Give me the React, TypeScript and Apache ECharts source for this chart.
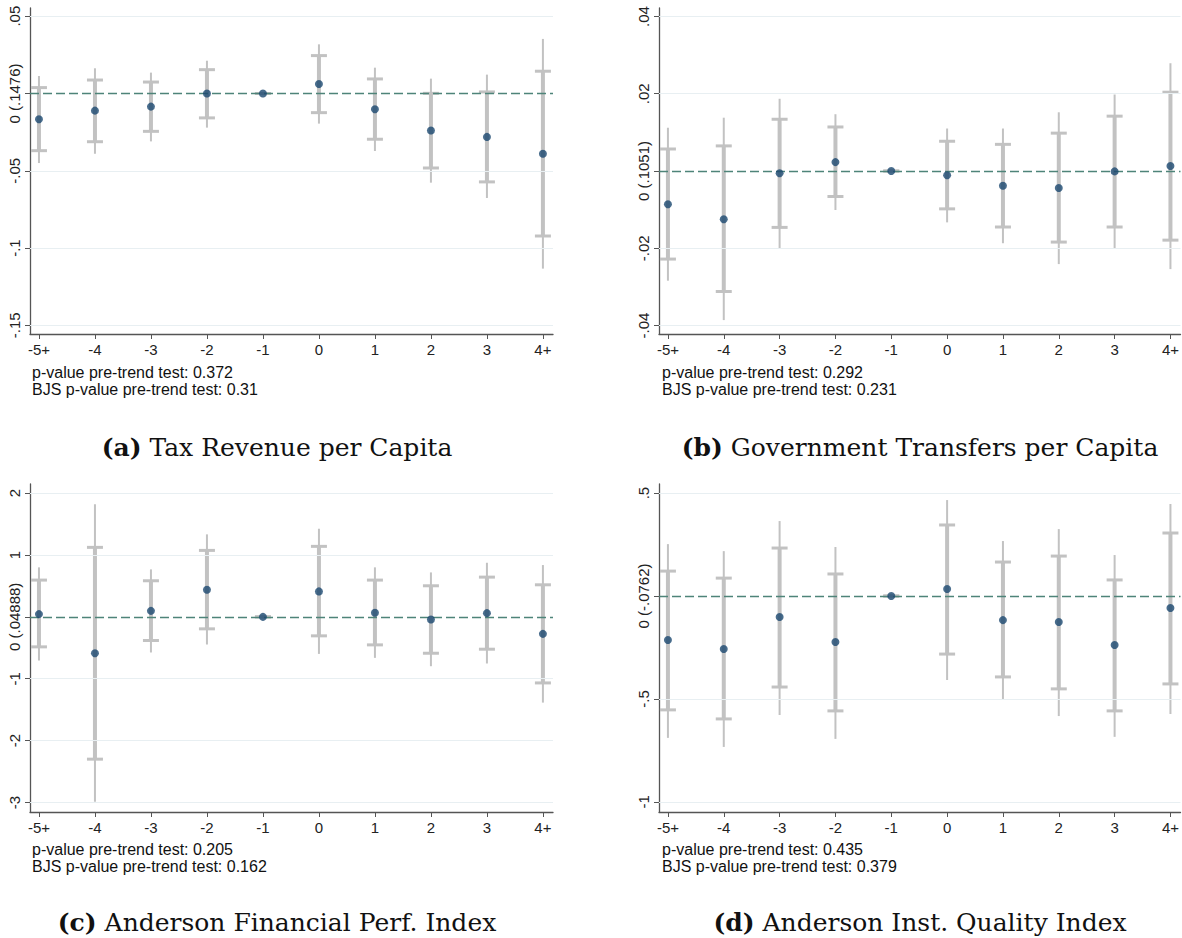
import React, { useEffect, useRef } from "react";
import * as echarts from "echarts";

// event-time categories
const eventTimes = [-5, -4, -3, -2, -1, 0, 1, 2, 3, 4];
const eventLabels = ["-5+", "-4", "-3", "-2", "-1", "0", "1", "2", "3", "4+"];

// (a) Tax Revenue per Capita
const aPoint = [-0.0167, -0.0111, -0.0085, 0.0, 0, 0.0061, -0.0102, -0.024, -0.0281, -0.039];
const aLo95 = [-0.037, -0.0312, -0.0245, -0.0158, 0, -0.0124, -0.0296, -0.0482, -0.0572, -0.0922];
const aHi95 = [0.0038, 0.0087, 0.0074, 0.0154, 0, 0.0245, 0.0094, 0.0001, 0.001, 0.0144];
const aLoU = [-0.045, -0.039, -0.031, -0.0221, 0, -0.0195, -0.0372, -0.0577, -0.0676, -0.1133];
const aHiU = [0.0113, 0.0163, 0.0135, 0.0212, 0, 0.0318, 0.0167, 0.0096, 0.0122, 0.0353];
const aTicks = [0.05, 0, -0.05, -0.1, -0.15];
const aTickLabels = [".05", "0 (.1476)", "-.05", "-.1", "-.15"];

// (b) Government Transfers per Capita
const bPoint = [-0.0086, -0.0125, -0.0006, 0.0023, 0, -0.0011, -0.0038, -0.0044, -0.0001, 0.0013];
const bLo95 = [-0.0228, -0.0312, -0.0146, -0.0066, 0, -0.0098, -0.0145, -0.0184, -0.0145, -0.0179];
const bHi95 = [0.0057, 0.0065, 0.0134, 0.0114, 0, 0.0077, 0.0069, 0.0098, 0.0142, 0.0204];
const bLoU = [-0.0284, -0.0386, -0.02, -0.0101, 0, -0.0133, -0.0187, -0.0241, -0.0201, -0.0254];
const bHiU = [0.0112, 0.0138, 0.0187, 0.0147, 0, 0.011, 0.011, 0.0152, 0.0198, 0.0279];
const bTicks = [0.04, 0.02, 0, -0.02, -0.04];
const bTickLabels = [".04", ".02", "0 (.1051)", "-.02", "-.04"];

// (c) Anderson Financial Perf. Index
const cPoint = [0.044, -0.588, 0.097, 0.437, 0, 0.411, 0.065, -0.043, 0.06, -0.275];
const cLo95 = [-0.485, -2.3, -0.382, -0.194, 0, -0.307, -0.453, -0.588, -0.523, -1.068];
const cHi95 = [0.594, 1.123, 0.583, 1.074, 0, 1.139, 0.594, 0.502, 0.642, 0.518];
const cLoU = [-0.706, -2.99, -0.576, -0.447, 0, -0.599, -0.663, -0.798, -0.754, -1.386];
const cHiU = [0.8, 1.819, 0.767, 1.333, 0, 1.424, 0.8, 0.718, 0.874, 0.837];
const cTicks = [2, 1, 0, -1, -2, -3];
const cTickLabels = ["2", "1", "0 (.04888)", "-1", "-2", "-3"];

// (d) Anderson Inst. Quality Index
const dPoint = [-0.214, -0.257, -0.102, -0.223, 0, 0.034, -0.117, -0.126, -0.238, -0.058];
const dLo95 = [-0.553, -0.597, -0.442, -0.558, 0, -0.282, -0.393, -0.451, -0.558, -0.427];
const dHi95 = [0.121, 0.087, 0.233, 0.107, 0, 0.345, 0.165, 0.194, 0.078, 0.306];
const dLoU = [-0.689, -0.733, -0.578, -0.694, 0, -0.408, -0.5, -0.583, -0.684, -0.573];
const dHiU = [0.252, 0.218, 0.364, 0.238, 0, 0.466, 0.267, 0.325, 0.199, 0.447];
const dTicks = [0.5, 0, -0.5, -1];
const dTickLabels = [".5", "0 (-.0762)", "-.5", "-1"];

const pretrendP = ["0.372", "0.292", "0.205", "0.435"];
const bjsP = ["0.31", "0.231", "0.162", "0.379"];
const captionTags = ["(a)", "(b)", "(c)", "(d)"];
const captionTitles = [
  "Tax Revenue per Capita",
  "Government Transfers per Capita",
  "Anderson Financial Perf. Index",
  "Anderson Inst. Quality Index",
];

const GREY = "#c2c2c2";
const NAVY = "#1a476f";
const REF = "#4e8479";
const GRIDC = "#e8eff2";
const SANS = "Liberation Sans";
const SERIF = "DejaVu Serif";

export default function App() {
  const ref = useRef<HTMLDivElement>(null);

  useEffect(() => {
    if (!ref.current) return;
    const chart = echarts.init(ref.current, null, { renderer: "svg" });

    const panels = [
      { point: aPoint, lo: aLo95, hi: aHi95, loU: aLoU, hiU: aHiU, ticks: aTicks, labels: aTickLabels, min: -0.1556, max: 0.0553, left: 30, top: 8, height: 326 },
      { point: bPoint, lo: bLo95, hi: bHi95, loU: bLoU, hiU: bHiU, ticks: bTicks, labels: bTickLabels, min: -0.0422, max: 0.0422, left: 659, top: 8, height: 326 },
      { point: cPoint, lo: cLo95, hi: cHi95, loU: cLoU, hiU: cHiU, ticks: cTicks, labels: cTickLabels, min: -3.154, max: 2.147, left: 30, top: 484, height: 328 },
      { point: dPoint, lo: dLo95, hi: dHi95, loU: dLoU, hiU: dHiU, ticks: dTicks, labels: dTickLabels, min: -1.049, max: 0.544, left: 659, top: 484, height: 328 },
    ];

    const makeRender = (lineW: number, caps: boolean) => (params: any, api: any) => {
      const x = api.value(0);
      const p1 = api.coord([x, api.value(1)]);
      const p2 = api.coord([x, api.value(2)]);
      const children: any[] = [
        { type: "line", shape: { x1: p1[0], y1: p1[1], x2: p2[0], y2: p2[1] }, style: { stroke: GREY, lineWidth: lineW } },
      ];
      if (caps) {
        const cw = 8;
        children.push({ type: "line", shape: { x1: p1[0] - cw, y1: p1[1], x2: p1[0] + cw, y2: p1[1] }, style: { stroke: GREY, lineWidth: 3 } });
        children.push({ type: "line", shape: { x1: p2[0] - cw, y1: p2[1], x2: p2[0] + cw, y2: p2[1] }, style: { stroke: GREY, lineWidth: 3 } });
      }
      return { type: "group", children };
    };

    const grids: any[] = [];
    const xAxes: any[] = [];
    const yAxes: any[] = [];
    const series: any[] = [];
    const graphics: any[] = [];

    panels.forEach((p, i) => {
      grids.push({ left: p.left, top: p.top, width: 523, height: p.height });
      xAxes.push({
        type: "value",
        gridIndex: i,
        min: -5.16,
        max: 4.18,
        axisLine: { show: true, onZero: false, lineStyle: { color: "#555", width: 1.3 } },
        axisTick: { show: true, length: 5, customValues: eventTimes, lineStyle: { color: "#555", width: 1 } },
        axisLabel: {
          customValues: eventTimes,
          formatter: (v: number) => eventLabels[eventTimes.indexOf(Math.round(v))] ?? "",
          fontFamily: SANS,
          fontSize: 15,
          color: "#222",
          margin: 8,
        },
        splitLine: { show: false },
      });
      yAxes.push({
        type: "value",
        gridIndex: i,
        min: p.min,
        max: p.max,
        axisLine: { show: true, onZero: false, lineStyle: { color: "#555", width: 1.3 } },
        axisTick: { show: true, length: 5, customValues: p.ticks, lineStyle: { color: "#555", width: 1 } },
        axisLabel: {
          customValues: p.ticks,
          rotate: 90,
          formatter: (v: number) => {
            const k = p.ticks.findIndex((t) => Math.abs(t - v) < 1e-9);
            return k >= 0 ? p.labels[k] : "";
          },
          fontFamily: SANS,
          fontSize: 15,
          color: "#222",
          margin: 8,
        },
        splitLine: { show: false },
      });

      const ptData = eventTimes.map((t, k) => [t, p.point[k]]);
      // gridlines
      series.push({
        type: "line",
        xAxisIndex: i,
        yAxisIndex: i,
        data: ptData,
        showSymbol: false,
        lineStyle: { opacity: 0 },
        silent: true,
        z: 1,
        markLine: {
          silent: true,
          symbol: "none",
          label: { show: false },
          lineStyle: { color: GRIDC, width: 1, type: "solid" },
          data: p.ticks.filter((t) => t !== 0).map((t) => ({ yAxis: t })),
        },
      });
      series.push({
        type: "custom",
        xAxisIndex: i,
        yAxisIndex: i,
        renderItem: makeRender(2, false),
        encode: { x: 0, y: [1, 2] },
        data: eventTimes.map((t, k) => [t, p.loU[k], p.hiU[k]]),
        z: 2,
      });
      series.push({
        type: "custom",
        xAxisIndex: i,
        yAxisIndex: i,
        renderItem: makeRender(4, true),
        encode: { x: 0, y: [1, 2] },
        data: eventTimes.map((t, k) => [t, p.lo[k], p.hi[k]]),
        z: 3,
      });
      // reference dashed line at zero
      series.push({
        type: "line",
        xAxisIndex: i,
        yAxisIndex: i,
        data: ptData,
        showSymbol: false,
        lineStyle: { opacity: 0 },
        silent: true,
        z: 4,
        markLine: {
          silent: true,
          symbol: "none",
          label: { show: false },
          lineStyle: { color: REF, width: 1.3, type: [9, 4] },
          data: [{ yAxis: 0 }],
        },
      });
      series.push({
        type: "scatter",
        xAxisIndex: i,
        yAxisIndex: i,
        data: ptData,
        symbolSize: 8,
        itemStyle: { color: NAVY },
        z: 5,
      });

      const textX = i % 2 === 0 ? 32 : 662;
      const textY = i < 2 ? 364 : 841;
      graphics.push({
        type: "text",
        left: textX,
        top: textY,
        style: { text: "p-value pre-trend test: " + pretrendP[i], font: `16px "${SANS}"`, fill: "#111" },
      });
      graphics.push({
        type: "text",
        left: textX,
        top: textY + 17,
        style: { text: "BJS p-value pre-trend test: " + bjsP[i], font: `16px "${SANS}"`, fill: "#111" },
      });
      const capCx = i % 2 === 0 ? 277 : 920;
      const capCy = i < 2 ? 447 : 922;
      graphics.push({
        type: "text",
        x: capCx,
        y: capCy,
        style: {
          text: `{b|${captionTags[i]}} ${captionTitles[i]}`,
          fontFamily: SERIF,
          fontSize: 25,
          fill: "#111",
          align: "center",
          verticalAlign: "middle",
          rich: { b: { fontWeight: "bold", fontFamily: SERIF, fontSize: 25, fill: "#111" } },
        },
      });
    });

    chart.setOption({
      animation: false,
      backgroundColor: "#fff",
      grid: grids,
      xAxis: xAxes,
      yAxis: yAxes,
      series,
      graphic: graphics,
    });

    return () => chart.dispose();
  }, []);

  return <div ref={ref} style={{ position: "absolute", left: 0, top: 0, width: 1182, height: 938 }} />;
}
